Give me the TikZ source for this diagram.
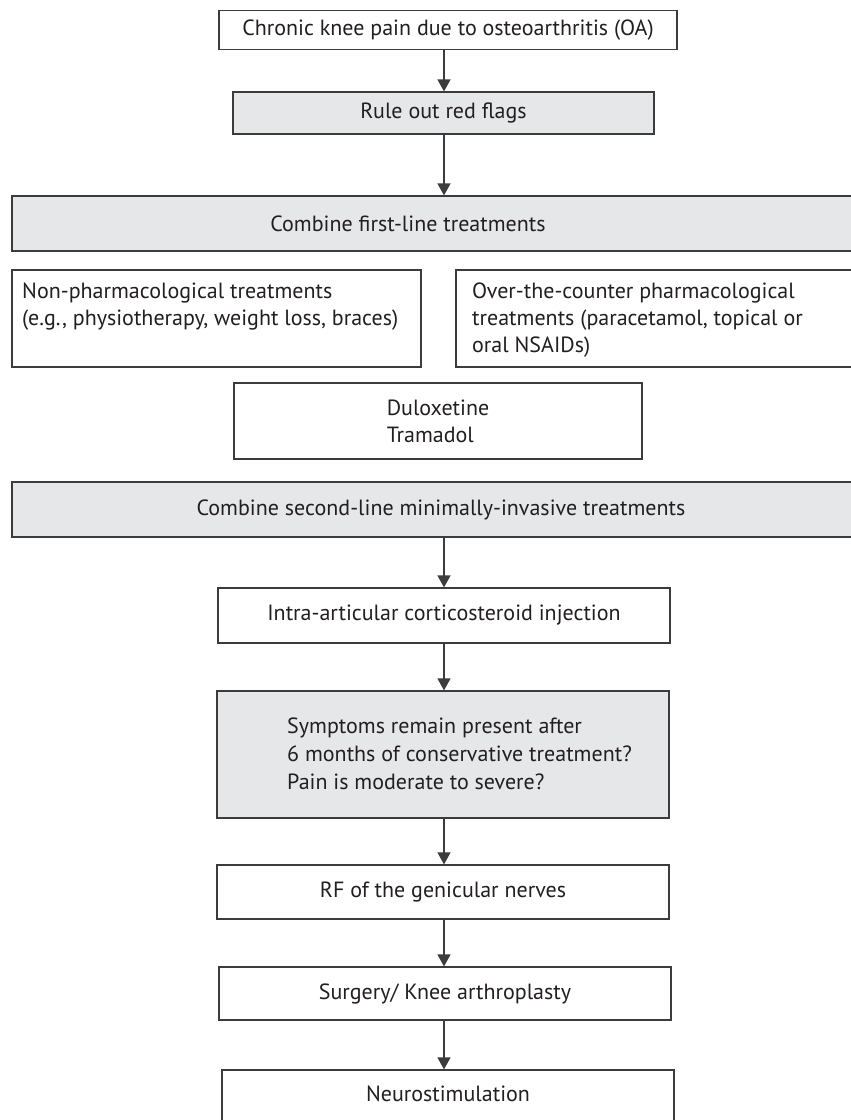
\documentclass[tikz,border=0pt]{standalone}
\usepackage{fontspec}
\setmainfont{PT Sans}
\usetikzlibrary{arrows.meta}
\definecolor{boxgray}{HTML}{E6E7E8}
\definecolor{edge}{HTML}{3C3C3C}
\definecolor{ink}{HTML}{231F20}
\begin{document}
\begin{tikzpicture}[x=1pt,y=-1pt,
  box/.style={draw=edge, line width=1.2pt, fill=white, inner sep=0pt, text=ink},
  gbox/.style={box, fill=boxgray},
  arr/.style={draw=edge, line width=1.2pt, -{Triangle[width=13pt,length=12pt]}},
  upper/.style={font=\fontsize{22}{27}\selectfont, text=ink},
  lower/.style={font=\fontsize{22}{28}\selectfont, text=ink}]
\useasboundingbox[fill=white] (0,0) rectangle (851,1120);
\coordinate (ax) at (444,0);
% first part
\node[box, upper, minimum width=458pt, minimum height=39pt] (n1) at (448,30) {Chronic knee pain due to osteoarthritis (OA)};
\node[gbox, upper, minimum width=421pt, minimum height=42pt] (n2) at (443.5,113) {Rule out red flags};
\node[gbox, minimum width=868pt, minimum height=55pt] (n3) at (446,223.5) {};
\node[upper] (n3t) at (408,224) {Combine first-line treatments};
\node[box, minimum width=409pt, minimum height=97pt] (n4) at (216.5,318.5) {};
\node[upper, align=left, anchor=base west, inner sep=0pt] (n4t) at (22,325) {Non-pharmacological treatments\\(e.g., physiotherapy, weight loss, braces)};
\node[box, minimum width=444pt, minimum height=97pt] (n5) at (678,318.5) {};
\node[upper, align=left, anchor=base west, inner sep=0pt] (n5t) at (472,352) {Over-the-counter pharmacological\\treatments (paracetamol, topical or\\oral NSAIDs)};
\node[box, upper, align=left, minimum width=408pt, minimum height=76pt] (n6) at (438,421) {Duloxetine\\Tramadol};
\node[gbox, minimum width=888pt, minimum height=55pt] (n7) at (456,509.5) {};
\node[upper] (n7t) at (441,510) {Combine second-line minimally-invasive treatments};
% second part
\node[box, lower, minimum width=452pt, minimum height=55pt] (n8) at (444,615.5) {Intra-articular corticosteroid injection};
\node[gbox, minimum width=452pt, minimum height=127pt] (n9) at (443,754.5) {};
\node[lower, align=left, anchor=base west, inner sep=0pt] (n9t) at (287,789) {Symptoms remain present after\\6 months of conservative treatment?\\Pain is moderate to severe?};
\node[box, lower, minimum width=452pt, minimum height=54pt] (n10) at (443,892) {RF of the genicular nerves};
\node[box, lower, minimum width=452pt, minimum height=53pt] (n11) at (445,993.5) {Surgery/ Knee arthroplasty};
\node[box, minimum width=452pt, minimum height=100pt] (n12) at (448,1120) {};
\node[lower] (n12t) at (448,1094) {Neurostimulation};
% arrows
\draw[arr] (n1.south -| ax) -- (n2.north -| ax);
\draw[arr] (n2.south -| ax) -- (n3.north -| ax);
\draw[arr] (n7.south -| ax) -- (n8.north -| ax);
\draw[arr] (n8.south -| ax) -- (n9.north -| ax);
\draw[arr] (n9.south -| ax) -- (n10.north -| ax);
\draw[arr] (n10.south -| ax) -- (n11.north -| ax);
\draw[arr] (n11.south -| ax) -- (n12.north -| ax);
\end{tikzpicture}
\end{document}
